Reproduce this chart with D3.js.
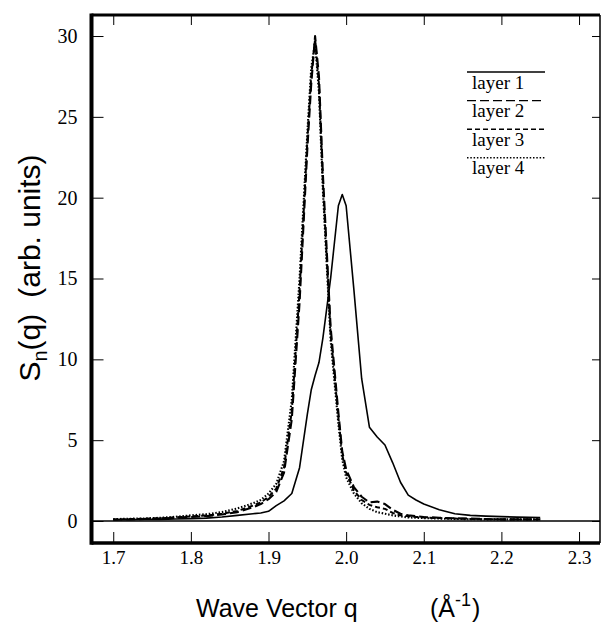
<!DOCTYPE html>
<html>
<head>
<meta charset="utf-8">
<script src="https://cdn.jsdelivr.net/npm/d3@7"></script>
<style>
  body { margin: 0; background: #fff; }
  .tick text { font-family: "Liberation Serif", "Times New Roman", serif; fill: #000; }
  .title { font-family: "Liberation Sans", Arial, sans-serif; fill: #000; }
  .legend text { font-family: "Liberation Serif", "Times New Roman", serif; font-size: 19px; fill: #000; }
</style>
</head>
<body>
<div id="chart"></div>
<script>
// wave vector q (1/A) sampled for every curve
var qValues = [1.70,1.72,1.74,1.76,1.78,1.80,1.82,1.84,1.86,1.88,1.89,1.90,1.91,1.92,1.93,1.94,1.95,1.955,1.96,1.965,1.97,1.98,1.99,1.995,2.00,2.01,2.02,2.03,2.04,2.05,2.06,2.07,2.08,2.09,2.10,2.12,2.14,2.16,2.18,2.20,2.22,2.25];

// S_n(q) per layer
var layer1 = [0.08,0.08,0.1,0.1,0.12,0.15,0.18,0.25,0.35,0.45,0.5,0.6,0.95,1.25,1.7,3.3,6.6,8.1,9.0,9.8,11.3,15.0,19.5,20.2,19.5,14.3,8.8,5.8,5.2,4.7,3.6,2.4,1.6,1.3,1.05,0.7,0.45,0.35,0.3,0.27,0.24,0.22];
var layer2 = [0.08,0.1,0.12,0.15,0.2,0.25,0.3,0.4,0.55,0.85,1.05,1.35,1.8,3.0,6.3,13.5,23.0,27.0,30.0,27.5,21.5,12.0,6.7,4.3,3.2,2.1,1.5,1.15,1.2,1.05,0.7,0.45,0.35,0.3,0.25,0.2,0.17,0.15,0.12,0.1,0.1,0.1];
var layer3 = [0.1,0.12,0.14,0.17,0.22,0.28,0.34,0.45,0.62,0.95,1.15,1.5,2.0,3.3,6.8,14.2,23.5,27.5,29.8,27.0,21.0,11.6,6.4,4.1,3.0,1.9,1.3,1.0,0.85,0.75,0.5,0.35,0.3,0.25,0.22,0.18,0.15,0.13,0.11,0.1,0.1,0.1];
var layer4 = [0.12,0.14,0.16,0.2,0.26,0.35,0.42,0.55,0.78,1.1,1.3,1.7,2.3,3.7,7.5,15.0,24.0,28.0,29.6,26.5,20.5,11.2,6.0,3.8,2.7,1.7,1.1,0.75,0.55,0.45,0.35,0.28,0.22,0.2,0.18,0.15,0.13,0.11,0.1,0.1,0.1,0.1];

var layerNames = ["layer 1", "layer 2", "layer 3", "layer 4"];
var xTicks = [1.7, 1.8, 1.9, 2.0, 2.1, 2.2, 2.3];
var yTicks = [0, 5, 10, 15, 20, 25, 30];

var W = 603, H = 626,
    pLeft = 91.5, pRight = 600, pTop = 15, pBottom = 543;

// line look for each layer
var dashes = ["none", "9,4", "5,3", "1.5,1.8"],
    widths = [1.6, 2.1, 2.0, 2.1];

var svg = d3.select("#chart").append("svg")
    .attr("width", W)
    .attr("height", H);

var x = d3.scaleLinear().domain([1.672, 2.327]).range([pLeft, pRight]);
var y = d3.scaleLinear().domain([-1.36, 31.3]).range([pBottom, pTop]);

var series = [layer1, layer2, layer3, layer4].map(function(vals) {
  return vals.map(function(v, i) { return { q: qValues[i], s: v }; });
});

svg.append("clipPath").attr("id", "plotclip")
  .append("rect")
    .attr("x", pLeft).attr("y", pTop)
    .attr("width", pRight - pLeft).attr("height", pBottom - pTop);

// zero line across the frame
svg.append("line")
    .attr("x1", pLeft).attr("x2", pRight)
    .attr("y1", y(0)).attr("y2", y(0))
    .attr("stroke", "#000")
    .attr("stroke-width", 1.4);

var line = d3.line()
    .x(function(d) { return x(d.q); })
    .y(function(d) { return y(d.s); });

svg.append("g").attr("clip-path", "url(#plotclip)")
  .selectAll("path")
  .data(series)
  .enter().append("path")
    .attr("d", line)
    .attr("fill", "none")
    .attr("stroke", "#000")
    .attr("stroke-width", function(d, i) { return widths[i]; })
    .attr("stroke-dasharray", function(d, i) { return dashes[i]; })
    .attr("stroke-linejoin", "round");

// axes, ticks point inward
var xAxis = svg.append("g")
    .attr("transform", "translate(0," + pBottom + ")")
    .call(d3.axisBottom(x).tickValues(xTicks).tickSizeInner(-11).tickSizeOuter(0)
      .tickPadding(8).tickFormat(d3.format(".1f")));
xAxis.selectAll("text").style("font-size", "19px");

svg.append("g")
    .attr("transform", "translate(0," + pTop + ")")
    .call(d3.axisTop(x).tickValues(xTicks).tickSizeInner(-10).tickSizeOuter(0).tickFormat(""));

var yAxis = svg.append("g")
    .attr("transform", "translate(" + pLeft + ",0)")
    .call(d3.axisLeft(y).tickValues(yTicks).tickSizeInner(-12).tickSizeOuter(0).tickPadding(14));
yAxis.selectAll("text").style("font-size", "20px");

svg.append("g")
    .attr("transform", "translate(" + pRight + ",0)")
    .call(d3.axisRight(y).tickValues(yTicks).tickSizeInner(-8).tickSizeOuter(0).tickFormat(""));

svg.selectAll(".domain").remove();
svg.selectAll(".tick line").attr("stroke", "#000").attr("stroke-width", 1);

// frame, heavier on left / top / bottom
var frame = [
  { x1: pLeft, y1: pTop - 1.5, x2: pLeft, y2: pBottom + 1.7, w: 4 },
  { x1: pLeft, y1: pTop, x2: pRight, y2: pTop, w: 3 },
  { x1: pRight, y1: pTop, x2: pRight, y2: pBottom, w: 1.5 },
  { x1: pLeft, y1: pBottom, x2: pRight, y2: pBottom, w: 3.5 }
];
svg.selectAll(".frame")
  .data(frame)
  .enter().append("line")
    .attr("class", "frame")
    .attr("x1", function(d) { return d.x1; })
    .attr("y1", function(d) { return d.y1; })
    .attr("x2", function(d) { return d.x2; })
    .attr("y2", function(d) { return d.y2; })
    .attr("stroke", "#000")
    .attr("stroke-width", function(d) { return d.w; });

// legend
var legend = svg.append("g").attr("class", "legend");
var lg = legend.selectAll("g")
    .data(layerNames)
  .enter().append("g")
    .attr("transform", function(d, i) { return "translate(467," + (72 + i * 28.6) + ")"; });
lg.append("line")
    .attr("x1", 0).attr("x2", 78)
    .attr("stroke", "#000")
    .attr("stroke-width", function(d, i) { return i == 0 ? 1.3 : 1.4; })
    .attr("stroke-dasharray", function(d, i) { return dashes[i]; });
lg.append("text")
    .attr("x", 5).attr("y", 16.5)
    .text(function(d) { return d; });

// axis titles
var xt = svg.append("text")
    .attr("class", "title")
    .attr("y", 617)
    .style("font-size", "25px");
xt.append("tspan").attr("x", 196).text("Wave Vector q");
xt.append("tspan").attr("x", 430).text("(Å");
xt.append("tspan").attr("dy", -11).style("font-size", "18px").text("-1");
xt.append("tspan").attr("dy", 11).attr("dx", 1).text(")");

var yt = svg.append("text")
    .attr("class", "title")
    .attr("transform", "translate(40,268) rotate(-90)")
    .style("text-anchor", "middle")
    .style("font-size", "30px");
yt.append("tspan").text("S");
yt.append("tspan").attr("dy", 7).style("font-size", "20px").text("n");
yt.append("tspan").attr("dy", -7).text("(q)");
yt.append("tspan").attr("dx", 16).text("(arb. units)");
</script>
</body>
</html>
